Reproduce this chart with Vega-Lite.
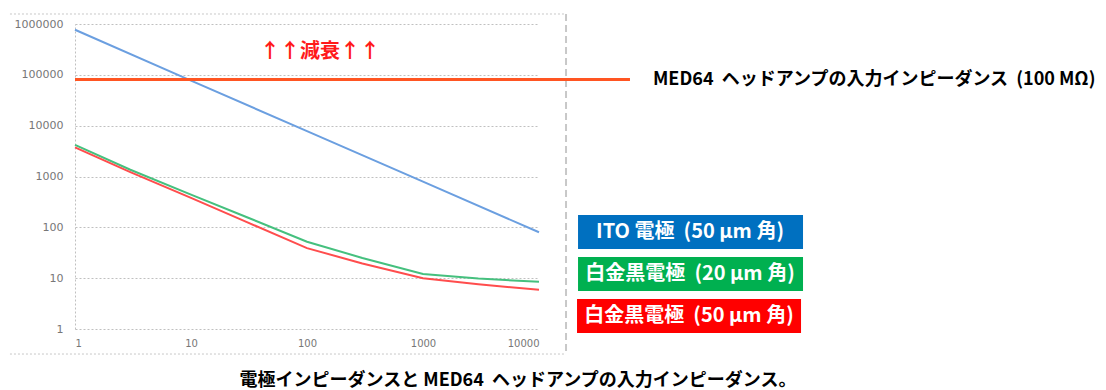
{
  "$schema": "https://vega.github.io/schema/vega-lite/v6.json",
  "width": 464,
  "height": 305,
  "autosize": "none",
  "padding": {"left": 75, "top": 24, "right": 567, "bottom": 61},
  "background": "white",
  "config": {"view": {"stroke": null}, "font": "Noto Sans CJK JP"},
  "title": {
    "text": "電極インピーダンスと MED64\u00a0\u00a0ヘッドアンプの入力インピーダンス。",
    "orient": "bottom",
    "anchor": "middle",
    "frame": "group",
    "dx": 211,
    "offset": 17,
    "fontSize": 18,
    "fontWeight": "bold",
    "color": "#000000",
    "font": "Noto Sans CJK JP"
  },
  "datasets": {
    "curves": [
      {"series": "ITO 50", "f": 1, "z": 770000},
      {"series": "ITO 50", "f": 10, "z": 77000},
      {"series": "ITO 50", "f": 100, "z": 7800},
      {"series": "ITO 50", "f": 1000, "z": 790},
      {"series": "ITO 50", "f": 10000, "z": 80},
      {"series": "Pt 20", "f": 1, "z": 4200},
      {"series": "Pt 20", "f": 3, "z": 1360},
      {"series": "Pt 20", "f": 10, "z": 440},
      {"series": "Pt 20", "f": 30, "z": 160},
      {"series": "Pt 20", "f": 100, "z": 52},
      {"series": "Pt 20", "f": 300, "z": 25},
      {"series": "Pt 20", "f": 1000, "z": 12.1},
      {"series": "Pt 20", "f": 3000, "z": 9.8},
      {"series": "Pt 20", "f": 10000, "z": 8.5},
      {"series": "Pt 50", "f": 1, "z": 3740},
      {"series": "Pt 50", "f": 3, "z": 1220},
      {"series": "Pt 50", "f": 10, "z": 380},
      {"series": "Pt 50", "f": 30, "z": 128},
      {"series": "Pt 50", "f": 100, "z": 39},
      {"series": "Pt 50", "f": 300, "z": 19.5},
      {"series": "Pt 50", "f": 1000, "z": 10},
      {"series": "Pt 50", "f": 3000, "z": 7.6},
      {"series": "Pt 50", "f": 10000, "z": 5.9}
    ]
  },
  "layer": [
    {
      "data": {"name": "curves"},
      "mark": {"type": "line", "strokeWidth": 2},
      "encoding": {
        "x": {
          "field": "f", "type": "quantitative",
          "scale": {"type": "log", "domain": [1, 10000], "nice": false},
          "axis": {
            "title": null, "values": [1, 10, 100, 1000, 10000], "format": "d",
            "grid": false, "domain": false, "ticks": false,
            "labelFont": "DejaVu Sans", "labelFontSize": 10, "labelColor": "#777777", "labelPadding": 9
          }
        },
        "y": {
          "field": "z", "type": "quantitative",
          "scale": {"type": "log", "domain": [1, 1000000], "nice": false},
          "axis": {
            "title": null, "values": [1, 10, 100, 1000, 10000, 100000, 1000000], "format": "d",
            "grid": true, "gridColor": "#c0c0c0", "gridDash": [2, 2], "gridWidth": 1,
            "domain": true, "domainColor": "#c0c0c0", "domainDash": [2, 2], "domainWidth": 1,
            "ticks": false,
            "labelFont": "DejaVu Sans", "labelFontSize": 11, "labelColor": "#777777", "labelPadding": 12
          }
        },
        "color": {
          "field": "series", "type": "nominal",
          "scale": {"domain": ["ITO 50", "Pt 20", "Pt 50"], "range": ["#6b9fe0", "#45c07e", "#ff4d4d"]},
          "legend": null
        }
      }
    },
    {
      "data": {"values": [{}]},
      "mark": {"type": "rule", "stroke": "#c8c8c8", "strokeDash": [2, 2], "strokeWidth": 1},
      "encoding": {
        "x": {"datum": 0.275, "type": "quantitative"},
        "x2": {"datum": 17100},
        "y": {"datum": 1573000, "type": "quantitative"}
      }
    },
    {
      "data": {"values": [{}]},
      "mark": {"type": "rule", "stroke": "#c8c8c8", "strokeDash": [2, 2], "strokeWidth": 1},
      "encoding": {
        "x": {"datum": 0.275, "type": "quantitative"},
        "x2": {"datum": 17100},
        "y": {"datum": 0.322, "type": "quantitative"}
      }
    },
    {
      "data": {"values": [{}]},
      "mark": {"type": "rule", "stroke": "#c8c8c8", "strokeDash": [7, 4], "strokeWidth": 2},
      "encoding": {
        "x": {"datum": 17100, "type": "quantitative"},
        "y": {"datum": 1573000, "type": "quantitative"},
        "y2": {"datum": 0.322}
      }
    },
    {
      "data": {"values": [{}]},
      "mark": {"type": "rule", "stroke": "#ff5522", "strokeWidth": 3},
      "encoding": {
        "x": {"datum": 1, "type": "quantitative"},
        "x2": {"datum": 60860},
        "y": {"datum": 80900, "type": "quantitative"}
      }
    },
    {
      "data": {"values": [{}]},
      "mark": {"type": "text", "text": "↑↑減衰↑↑", "color": "#ff1a1a", "fontSize": 20, "fontWeight": "bold", "align": "center", "baseline": "middle"},
      "encoding": {
        "x": {"datum": 129.4, "type": "quantitative"},
        "y": {"datum": 281000, "type": "quantitative"}
      }
    },
    {
      "data": {"values": [{}]},
      "mark": {"type": "text", "text": "MED64\u00a0\u00a0ヘッドアンプの入力インピーダンス\u00a0\u00a0(100 MΩ)", "color": "#000000", "fontSize": 18, "fontWeight": "bold", "align": "left", "baseline": "middle"},
      "encoding": {
        "x": {"datum": 96100, "type": "quantitative"},
        "y": {"datum": 79100, "type": "quantitative"}
      }
    },
    {
      "data": {"values": [{}]},
      "mark": {"type": "rect", "fill": "#0070c0"},
      "encoding": {
        "x": {"datum": 21700, "type": "quantitative"},
        "x2": {"datum": 1888000},
        "y": {"datum": 175, "type": "quantitative"},
        "y2": {"datum": 37.5}
      }
    },
    {
      "data": {"values": [{}]},
      "mark": {"type": "text", "text": "ITO 電極\u00a0\u00a0(50 µm 角)", "color": "#ffffff", "fontSize": 20, "fontWeight": "bold", "align": "center", "baseline": "middle"},
      "encoding": {
        "x": {"datum": 200400, "type": "quantitative"},
        "y": {"datum": 80.9, "type": "quantitative"}
      }
    },
    {
      "data": {"values": [{}]},
      "mark": {"type": "rect", "fill": "#00b050"},
      "encoding": {
        "x": {"datum": 21700, "type": "quantitative"},
        "x2": {"datum": 1888000},
        "y": {"datum": 26.1, "type": "quantitative"},
        "y2": {"datum": 5.59}
      }
    },
    {
      "data": {"values": [{}]},
      "mark": {"type": "text", "text": "白金黒電極\u00a0\u00a0(20 µm 角)", "color": "#ffffff", "fontSize": 20, "fontWeight": "bold", "align": "center", "baseline": "middle"},
      "encoding": {
        "x": {"datum": 200400, "type": "quantitative"},
        "y": {"datum": 12.08, "type": "quantitative"}
      }
    },
    {
      "data": {"values": [{}]},
      "mark": {"type": "rect", "fill": "#ff0000"},
      "encoding": {
        "x": {"datum": 21270, "type": "quantitative"},
        "x2": {"datum": 1815000},
        "y": {"datum": 3.89, "type": "quantitative"},
        "y2": {"datum": 0.834}
      }
    },
    {
      "data": {"values": [{}]},
      "mark": {"type": "text", "text": "白金黒電極\u00a0\u00a0(50 µm 角)", "color": "#ffffff", "fontSize": 20, "fontWeight": "bold", "align": "center", "baseline": "middle"},
      "encoding": {
        "x": {"datum": 196400, "type": "quantitative"},
        "y": {"datum": 1.8, "type": "quantitative"}
      }
    }
  ]
}
